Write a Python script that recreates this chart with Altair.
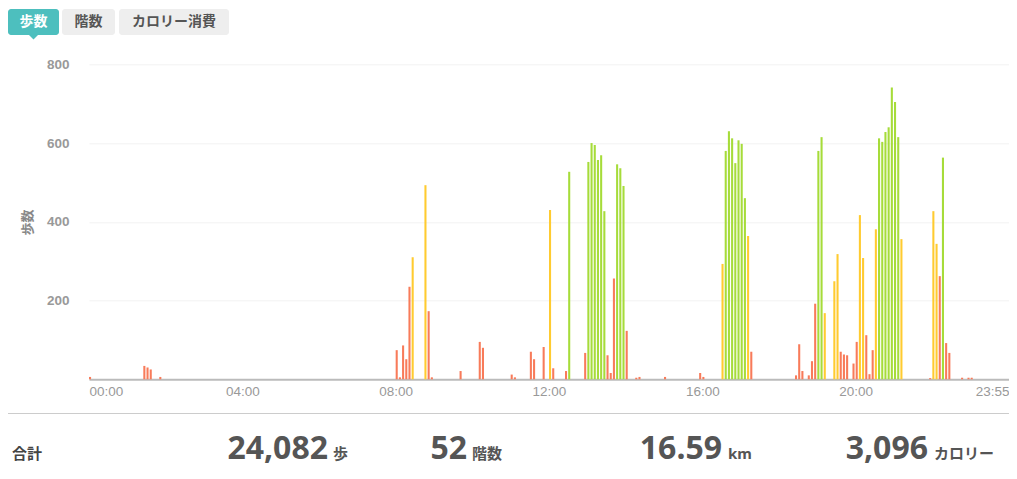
import altair as alt
import pandas as pd

# ---- data: 5-minute slots (0 = 00:00 ... 287 = 23:55) ----
slot = [0, 17, 18, 19, 22,
        96, 97, 98, 99, 100, 101, 105, 106, 107, 116, 122, 123, 132, 133, 138, 139, 142, 144, 145, 149,
        150, 155, 156, 157, 158, 159, 160, 161, 162, 163, 164, 165, 166, 167, 168, 171, 172, 180,
        191, 192, 198, 199, 200, 201, 202, 203, 204, 205, 206, 207,
        221, 222, 223, 225, 226, 227, 228, 229, 230, 233, 234, 235, 236, 237, 239, 240, 241, 242, 243,
        244, 245, 246, 247, 248, 249, 250, 251, 252, 253, 254,
        263, 264, 265, 266, 267, 268, 269, 273, 275, 276]
steps = [6, 34, 30, 25, 6,
         74, 5, 86, 51, 235, 310, 493, 173, 5, 21, 95, 80, 12, 5, 70, 51, 82, 430, 28, 21,
         527, 67, 552, 600, 595, 557, 569, 427, 61, 16, 256, 546, 536, 491, 123, 4, 6, 6,
         16, 6, 293, 580, 630, 612, 549, 607, 598, 460, 364, 70,
         10, 89, 21, 10, 46, 192, 580, 615, 168, 249, 318, 70, 63, 61, 40, 95, 417, 308, 112,
         13, 74, 381, 612, 603, 628, 640, 741, 704, 615, 356,
         3, 427, 344, 262, 563, 92, 67, 4, 4, 4]
level = ["低", "低", "低", "低", "低",
         "低", "低", "低", "低", "低", "中", "中", "低", "低", "低", "低", "低", "低", "低", "低", "低", "低", "中", "低", "低",
         "高", "低", "高", "高", "高", "高", "高", "高", "低", "低", "低", "高", "高", "高", "低", "低", "低", "低",
         "低", "低", "中", "高", "高", "高", "高", "高", "高", "高", "中", "低",
         "低", "低", "低", "低", "低", "低", "高", "高", "中", "中", "中", "低", "低", "低", "低", "低", "中", "中", "低",
         "低", "低", "中", "高", "高", "高", "高", "高", "高", "高", "中",
         "低", "中", "中", "低", "高", "低", "低", "低", "低", "低"]

level_names = ["低", "中", "高"]
level_colors = ["#f87b5a", "#ffcb30", "#a6dc3a"]

tick_slots = [0, 48, 96, 144, 192, 240, 288]
tick_labels = ["00:00", "04:00", "08:00", "12:00", "16:00", "20:00", "23:55"]
y_ticks = [200, 400, 600, 800]

tabs = ["歩数", "階数", "カロリー消費"]
summary_head = "合計"
summary_values = ["24,082", "52", "16.59", "3,096"]
summary_units = ["歩", "階数", "km", "カロリー"]

# ---- layout helpers (page pixel -> plot-area pixel) ----
OX, OY = 89, 64.3
W, H = 920, 315
PAD = {"left": OX - 8, "top": OY - 8, "right": 0, "bottom": 90.5}


def px(v):
    return v - OX


def py(v):
    return v - OY


CJK = "Noto Sans CJK JP"
one = pd.DataFrame({"k": [0]})

df = pd.DataFrame({"slot": slot, "steps": steps, "level": level})

label_expr = f"{tick_labels}[indexof({tick_slots}, datum.value)]"

bars = alt.Chart(df).transform_calculate(
    slot_end="datum.slot + 0.65"
).mark_bar().encode(
    x=alt.X("slot:Q", scale=alt.Scale(domain=[0, 288], nice=False, zero=False),
            axis=alt.Axis(values=tick_slots, labelExpr=label_expr, labelFlush=True,
                          title=None, ticks=False, grid=False, domainColor="#bbbbbb",
                          domainWidth=2, labelColor="#999999", labelFontSize=13.5,
                          labelFont="Liberation Sans", labelPadding=5)),
    x2="slot_end:Q",
    y=alt.Y("steps:Q", scale=alt.Scale(domain=[0, 800], nice=False),
            axis=alt.Axis(values=y_ticks, title="歩数", domain=False, ticks=False,
                          grid=True, gridColor="#f2f2f2", labelColor="#999999",
                          labelFontWeight="bold", labelFontSize=13.5, labelFont="Liberation Sans",
                          labelPadding=20, titleColor="#888888", titleFont=CJK,
                          titleFontSize=13, titleFontWeight="bold",
                          titleX=px(27.5), titleY=py(222), titleAlign="center",
                          titleBaseline="middle")),
    y2=alt.Y2(datum=0),
    color=alt.Color("level:N", scale=alt.Scale(domain=level_names, range=level_colors), legend=None),
)


def rect(x1, x2, y1, y2, color):
    return alt.Chart(one).mark_rect(color=color, cornerRadius=3).encode(
        x=alt.value(px(x1)), x2=alt.value(px(x2)), y=alt.value(py(y1)), y2=alt.value(py(y2)))


def txt(s, x, y, size, color, align="center", baseline="middle", weight="bold", font=CJK):
    return alt.Chart(one).mark_text(text=s, align=align, baseline=baseline, fontSize=size,
                                    fontWeight=weight, color=color, font=font).encode(
        x=alt.value(px(x)), y=alt.value(py(y)))


TEAL = "#4dbfbe"
layers = [bars]
# tabs
tab_boxes = [(8, 59), (62, 115), (119, 229)]
for i, (name, (a, b)) in enumerate(zip(tabs, tab_boxes)):
    layers.append(rect(a, b, 9, 35, TEAL if i == 0 else "#eeeeee"))
    layers.append(txt(name, (a + b) / 2, 22.5, 14, "#ffffff" if i == 0 else "#555555"))
layers.append(alt.Chart(one).mark_point(shape="M-1,-0.5L1,-0.5L0,0.5Z", filled=True, color=TEAL,
                                        opacity=1, size=100, strokeWidth=0).encode(
    x=alt.value(px(33.5)), y=alt.value(py(37))))

# separator
layers.append(alt.Chart(one).mark_rule(color="#cccccc", strokeWidth=1).encode(
    x=alt.value(px(8)), x2=alt.value(px(OX + W)), y=alt.value(py(413.5))))

# summary row
BASE = 459.5
layers.append(txt(summary_head, 12, BASE, 15, "#444444", align="left", baseline="alphabetic"))
val_right = [328, 467, 722, 928]
unit_left = [333, 472, 728, 934]
for v, u, r, l in zip(summary_values, summary_units, val_right, unit_left):
    layers.append(txt(v, r, BASE, 32, "#555555", align="right", baseline="alphabetic",
                      font="Noto Sans"))
    layers.append(txt(u, l, BASE, 15, "#555555", align="left", baseline="alphabetic",
                      font="Noto Sans, " + CJK))

chart = alt.layer(*layers).properties(
    width=W, height=H,
    padding=PAD,
    autosize=alt.AutoSizeParams(type="none"),
).configure_view(strokeWidth=0)

chart.save("out.html", embed_options={"renderer": "svg", "actions": False})
